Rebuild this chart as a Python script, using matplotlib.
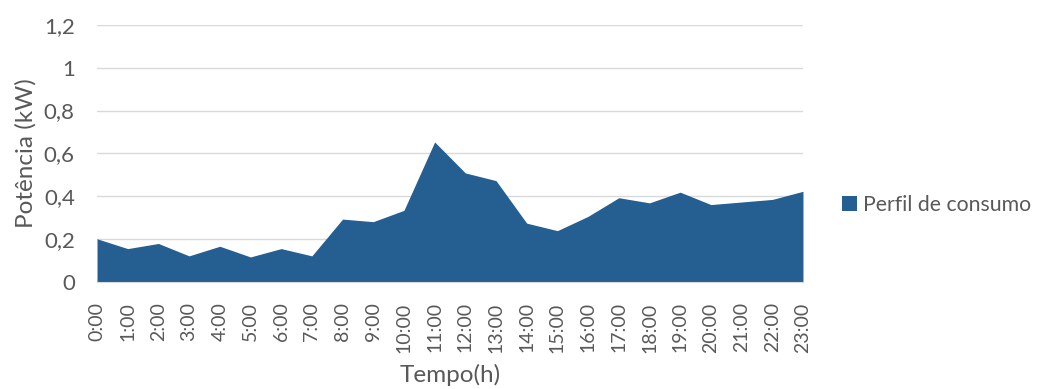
import matplotlib.pyplot as plt
import numpy as np

plt.rcParams['font.family'] = ['Lato', 'DejaVu Sans']

# hourly consumption profile (kW)
horas = ["%d:00" % h for h in range(24)]
potencia = [0.200, 0.154, 0.178, 0.120, 0.165, 0.115, 0.154, 0.120,
            0.292, 0.280, 0.333, 0.653, 0.508, 0.472, 0.273, 0.238,
            0.305, 0.392, 0.368, 0.418, 0.360, 0.372, 0.384, 0.422]
y_ticks = [0, 0.2, 0.4, 0.6, 0.8, 1.0, 1.2]
y_labels = ["0", "0,2", "0,4", "0,6", "0,8", "1", "1,2"]

txt = '#595959'
azul = '#255E91'

fig = plt.figure(figsize=(10.42, 3.89), dpi=100)
ax = fig.add_axes([0.0931, 0.2763, 0.6775, 0.6594])

x = np.arange(len(horas))
ax.fill_between(x, 0, potencia, color=azul, linewidth=0, label='Perfil de consumo', zorder=2)

ax.set_xlim(0, len(horas) - 1)
ax.set_ylim(0, 1.2)
ax.set_yticks(y_ticks)
ax.set_yticklabels(y_labels, fontsize=16, color=txt)
ax.set_xticks(x)
ax.set_xticklabels(horas, rotation=90, fontsize=14, color=txt)
ax.tick_params(length=0)
ax.tick_params(axis='x', pad=15)
ax.tick_params(axis='y', pad=16)

ax.grid(axis='y', color='#D9D9D9', linewidth=1.0, zorder=1)
for s in ['top', 'right', 'left']:
    ax.spines[s].set_visible(False)
ax.spines['bottom'].set_color('#D9D9D9')
ax.spines['bottom'].set_zorder(3)

ax.set_xlabel('Tempo(h)', fontsize=17.5, color=txt, labelpad=8)
ax.set_ylabel('Potência (kW)', fontsize=17.5, color=txt, labelpad=5)

ax.legend(loc='center left', bbox_to_anchor=(1.028, 0.3), frameon=False,
          fontsize=15.3, labelcolor=txt, handlelength=0.7, handleheight=0.7,
          handletextpad=0.3)

fig.savefig('out.png', dpi=100, facecolor='white')
